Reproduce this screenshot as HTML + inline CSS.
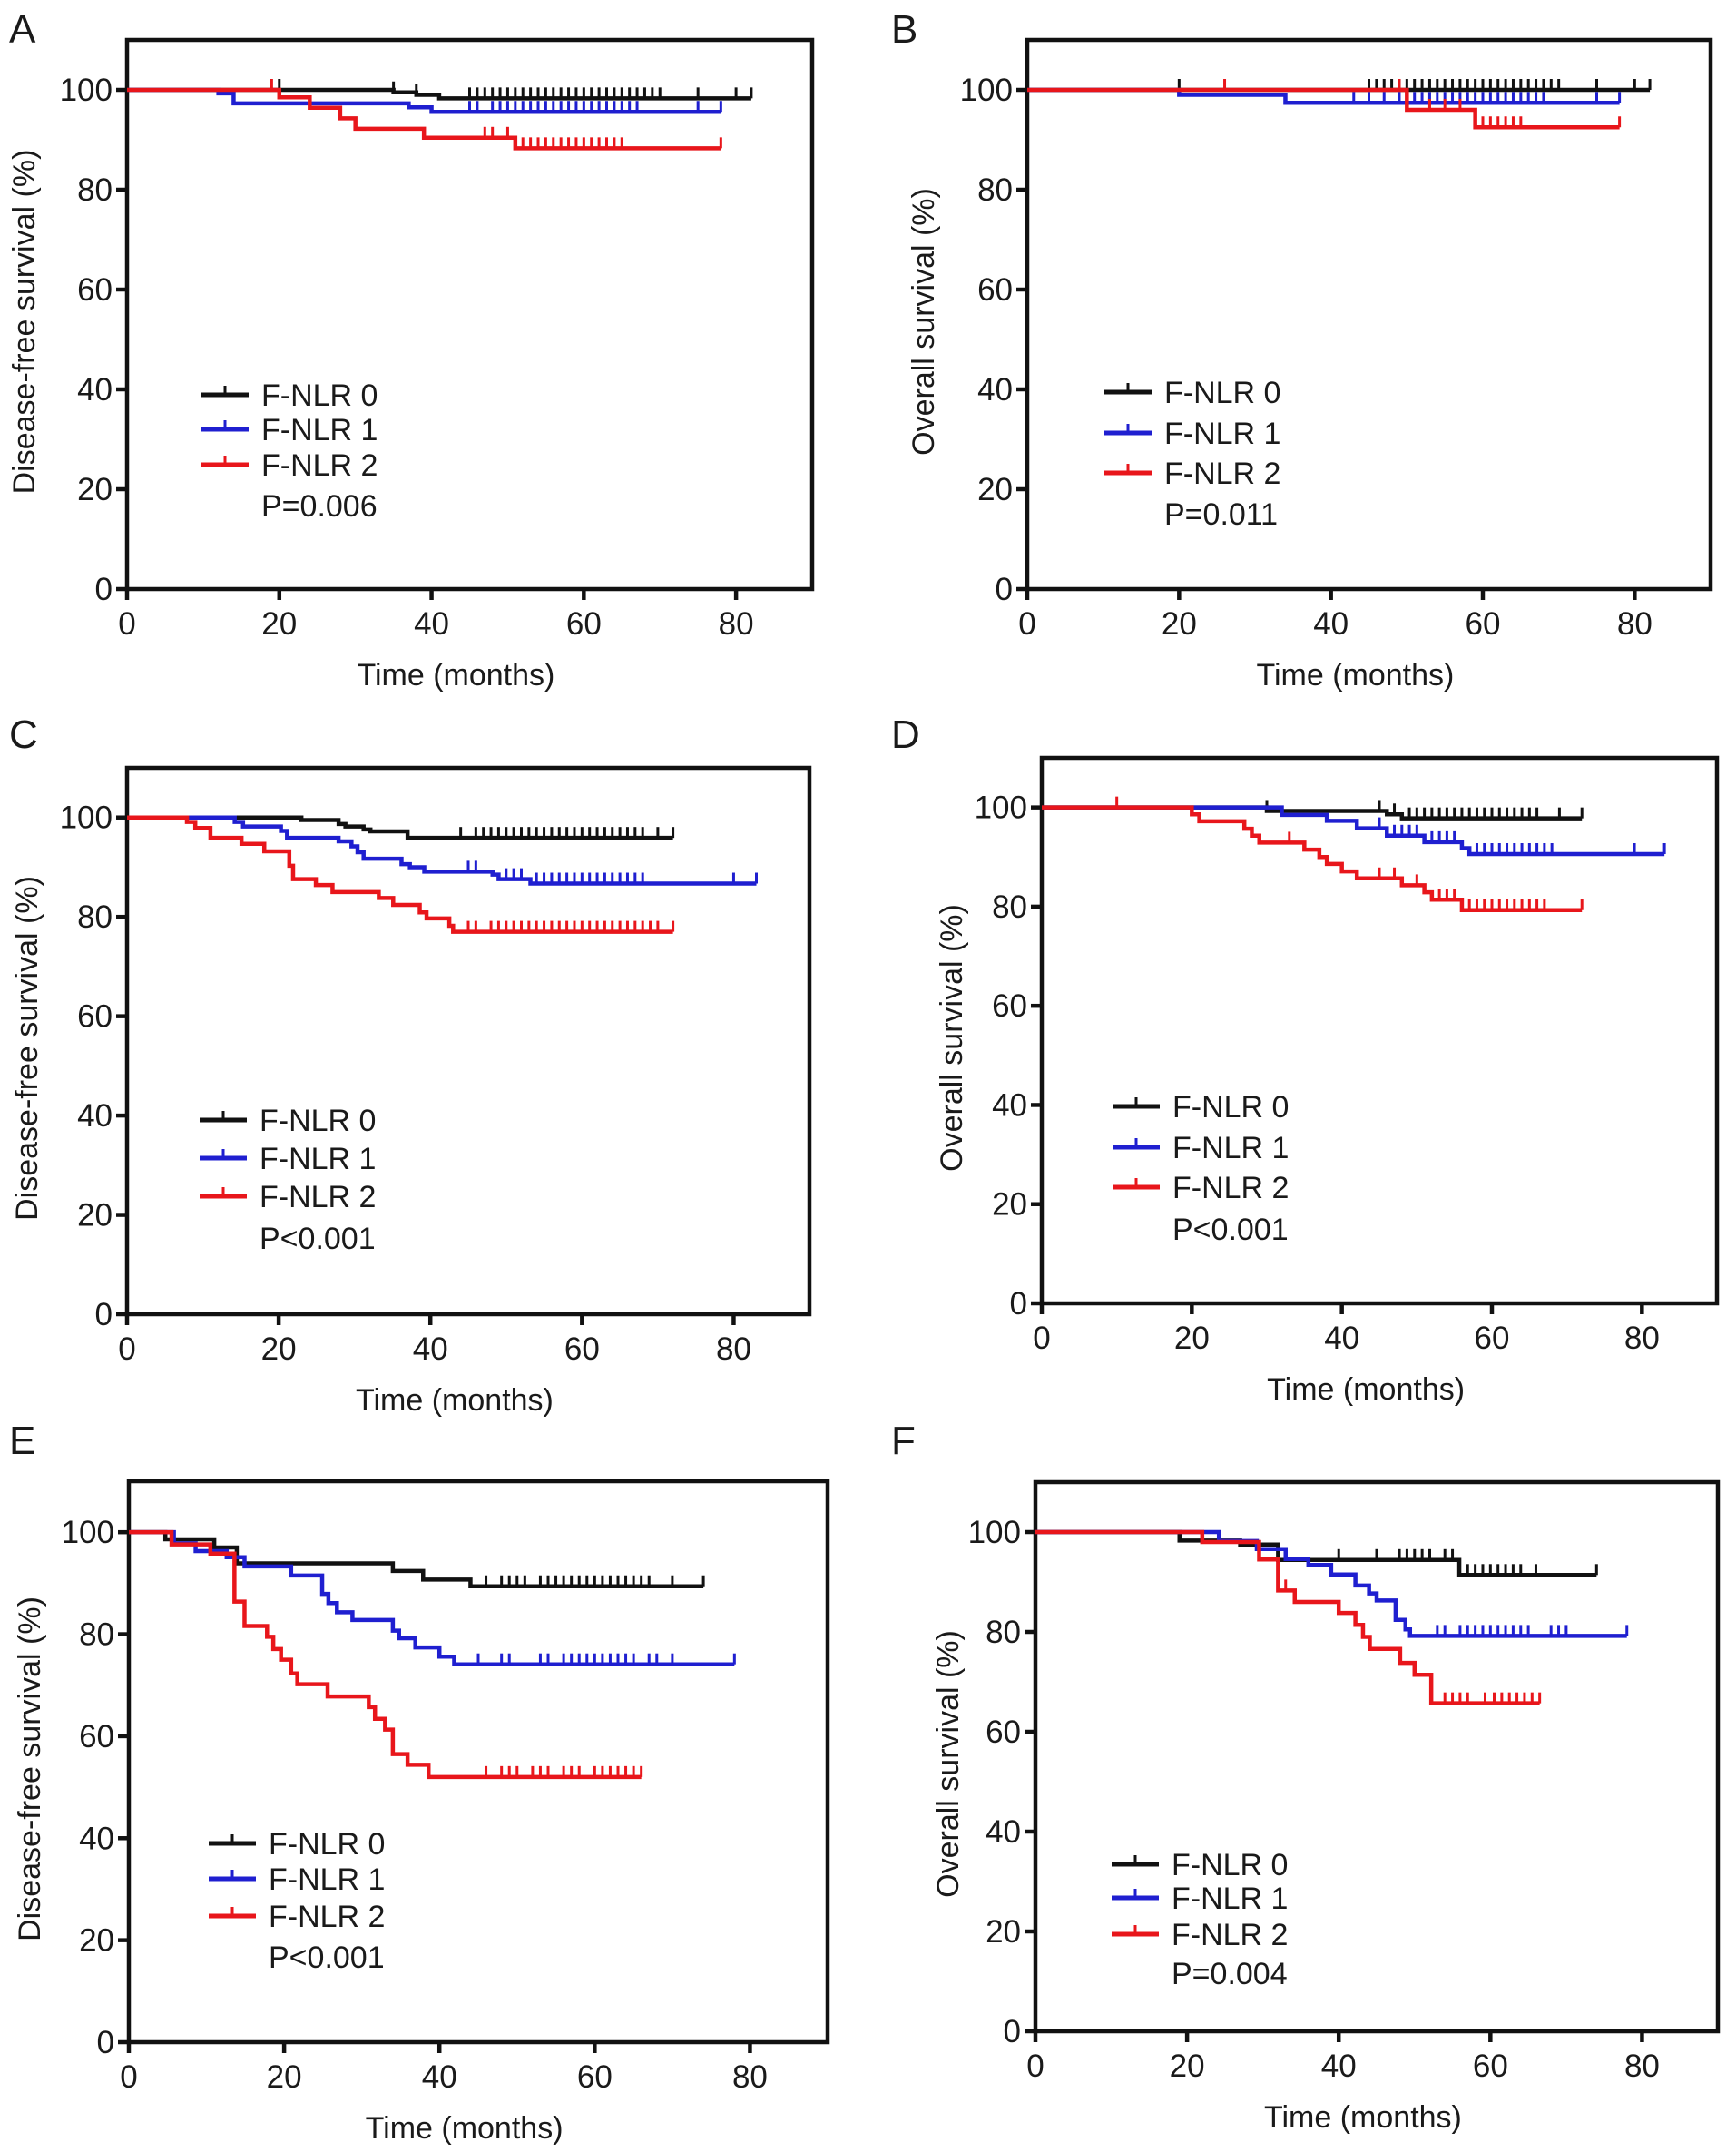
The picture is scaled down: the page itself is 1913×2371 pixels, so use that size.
<!DOCTYPE html>
<html><head><meta charset="utf-8">
<style>
html,body{margin:0;padding:0;background:#fff;}
svg{display:block;}
text{font-family:"Liberation Sans",Arial,sans-serif;fill:#1a1a1a;}
</style></head>
<body>
<svg id="fig" width="1913" height="2371" viewBox="0 0 1913 2371" xmlns="http://www.w3.org/2000/svg"></svg>
<script>
// ---- data: [time, survival] step events, censor times ----
const aBlackT=[35,38,41]; const aBlackS=[99.5,99,98.3]; const aBlackC=[20,35,38,45,46,47,48,49,50,51,52,53,54,55,56,57,58,59,60,61,62,63,64,65,66,67,68,69,70,75,80,82];
const aBlueT=[12,14,37,40]; const aBlueS=[99.3,97.3,96.5,95.6]; const aBlueC=[45,46,48,49,50,51,52,53,54,55,56,57,58,59,60,61,62,63,64,65,66,67,75,78];
const aRedT=[20,24,28,30,39,51]; const aRedS=[98.5,96.4,94.3,92.2,90.4,88.3]; const aRedC=[19,47,48,50,52,53,54,55,56,57,58,59,60,61,62,63,64,65,78];

const bBlackT=[]; const bBlackS=[]; const bBlackC=[20,45,46,47,48,49,50,51,52,53,54,55,56,57,58,59,60,61,62,63,64,65,66,67,68,69,70,75,80,82];
const bBlueT=[20,34]; const bBlueS=[99,97.4]; const bBlueC=[43,45,47,49,50,51,52,53,54,55,56,57,58,59,60,61,62,63,64,65,66,67,68,75,78];
const bRedT=[50,59]; const bRedS=[96,92.5]; const bRedC=[26,49,53,55,57,60,61,62,63,64,65,78];

const cBlackT=[23,27.9,28.8,31.2,32.1,37]; const cBlackS=[99.5,98.7,98.2,97.6,97.2,95.9]; const cBlackC=[44,46,47,48,49,50,51,52,53,54,55,56,57,58,59,60,61,62,63,64,65,66,67,68,70,72];
const cBlueT=[14.2,15.3,20.3,21.1,27.9,29.6,30.4,31.2,36.2,37.3,39.2,48.2,49,53.2]; const cBlueS=[99.1,98.2,97.3,95.9,95.2,94.2,93,91.7,90.6,90,89.1,88.5,87.6,86.7]; const cBlueC=[45,46,50,51,52,54,55,56,57,58,59,60,61,62,63,64,65,66,67,68,80,83];
const cRedT=[7.9,9,11,15.1,18.1,21.4,21.9,24.9,27.1,33.2,35.1,38.6,39.5,42.5,43]; const cRedS=[99.1,97.9,95.9,94.7,93.2,90.3,87.6,86.4,85,83.8,82.4,80.9,79.7,78.2,77]; const cRedC=[45,46,48,49,50,51,52,53,54,55,56,57,58,59,60,61,62,63,64,65,66,67,68,69,70,72];

const dBlackT=[30,46,48]; const dBlackS=[99.3,98.6,97.8]; const dBlackC=[30,45,47,49,50,51,52,53,54,55,56,57,58,59,60,61,62,63,64,65,66,69,72];
const dBlueT=[32,38,42,46,51,56,57]; const dBlueS=[98.5,97.3,95.8,94.3,93,91.8,90.6]; const dBlueC=[45,47,48,49,50,52,53,54,55,58,59,60,61,62,63,64,65,66,67,68,79,83];
const dRedT=[20,21,27,28,29,35,37,38,40,42,48,51,52,56]; const dRedS=[98.6,97.2,95.7,94.3,92.9,91.5,90,88.6,87.1,85.7,84.3,82.9,81.4,79.3]; const dRedC=[10,33,45,47,50,53,54,55,57,58,59,60,61,62,63,64,65,66,67,72];

const eBlackT=[4.7,11,13.9,34,37.9,44]; const eBlackS=[98.6,97,93.9,92.4,90.7,89.4]; const eBlackC=[46,48,49,50,51,53,54,55,56,57,58,59,60,61,62,63,64,65,66,67,70,74];
const eBlueT=[5.8,8.6,12.6,14.9,20.9,24.9,25.7,26.8,28.8,34,34.8,36.9,40,41.9]; const eBlueS=[97.8,96.3,95.1,93.3,91.5,87.9,86.1,84.3,82.8,80.7,79.2,77.4,75.6,74.1]; const eBlueC=[45,48,49,53,54,56,57,58,59,60,61,62,63,64,65,67,68,70,78];
const eRedT=[5.5,10.5,13.6,14.9,17.8,18.6,19.6,20.9,21.7,25.6,30.9,31.7,33,34,35.9,38.6]; const eRedS=[97.6,95.8,86.4,81.6,79.5,77.1,75,72.3,70.2,67.8,65.7,63.4,61.3,56.5,54.4,52]; const eRedC=[46,48,49,50,52,53,54,56,57,58,60,61,62,63,64,65,66];

const fBlackT=[19,27,32,55.9]; const fBlackS=[98.3,97.5,94.4,91.4]; const fBlackC=[40,45,48,49,50,51,52,54,55,57,58,59,60,61,62,63,64,66,74];
const fBlueT=[24.2,29.2,33,36,39,42.2,44,45,47.5,48.8,49.4]; const fBlueS=[98.2,96.6,94.6,93.4,91.5,89.3,87.7,86.3,82.4,80.5,79.2]; const fBlueC=[53,54,56,57,58,59,60,61,62,63,64,65,68,69,70,78];
const fRedT=[22,29.5,32,34.2,40,42.2,43.2,44.1,48.1,50,52.2]; const fRedS=[98,94.5,88.3,86,83.8,81.4,79,76.6,73.8,71.4,65.7]; const fRedC=[33,54,55,56,57,59.3,60.5,61.5,62.5,63.5,64.5,65.5,66.5];

const yTicks=[0,20,40,60,80,100];
const xTicks=[0,20,40,60,80];
const seriesNames=["F-NLR 0","F-NLR 1","F-NLR 2"];
const pValues=["P=0.006","P=0.011","P<0.001","P<0.001","P<0.001","P=0.004"];

const panels=[
 {id:"a",letter:"A",lx:10,ly:47,x0:140,y0:649,w:755,h:605,yt:"Disease-free survival (%)",ytx:27,legX:222,legY:[435,473,512],pY:557,
  s:[[aBlackT,aBlackS,aBlackC],[aBlueT,aBlueS,aBlueC],[aRedT,aRedS,aRedC]]},
 {id:"b",letter:"B",lx:982,ly:47,x0:1132,y0:649,w:753,h:605,yt:"Overall survival (%)",ytx:1018,legX:1217,legY:[432,477,521],pY:566,
  s:[[bBlackT,bBlackS,bBlackC],[bBlueT,bBlueS,bBlueC],[bRedT,bRedS,bRedC]]},
 {id:"c",letter:"C",lx:10,ly:824,x0:140,y0:1448,w:752,h:602,yt:"Disease-free survival (%)",ytx:30,legX:220,legY:[1234,1276,1318],pY:1364,
  s:[[cBlackT,cBlackS,cBlackC],[cBlueT,cBlueS,cBlueC],[cRedT,cRedS,cRedC]]},
 {id:"d",letter:"D",lx:982,ly:824,x0:1148,y0:1436,w:744,h:601,yt:"Overall survival (%)",ytx:1049,legX:1226,legY:[1219,1264,1308],pY:1354,
  s:[[dBlackT,dBlackS,dBlackC],[dBlueT,dBlueS,dBlueC],[dRedT,dRedS,dRedC]]},
 {id:"e",letter:"E",lx:10,ly:1602,x0:142,y0:2250,w:770,h:618,yt:"Disease-free survival (%)",ytx:33,legX:230,legY:[2031,2070,2111],pY:2156,
  s:[[eBlackT,eBlackS,eBlackC],[eBlueT,eBlueS,eBlueC],[eRedT,eRedS,eRedC]]},
 {id:"f",letter:"F",lx:982,ly:1602,x0:1141,y0:2238,w:752,h:605,yt:"Overall survival (%)",ytx:1045,legX:1225,legY:[2054,2091,2131],pY:2174,
  s:[[fBlackT,fBlackS,fBlackC],[fBlueT,fBlueS,fBlueC],[fRedT,fRedS,fRedC]]}
];
const colors=["#111111","#1f1fd0","#e8161b"];
const NS="http://www.w3.org/2000/svg";
const fig=document.getElementById("fig");
function mk(tag,attrs,parent){const e=document.createElementNS(NS,tag);for(const k in attrs)e.setAttribute(k,attrs[k]);(parent||fig).appendChild(e);return e;}

panels.forEach((p,pi)=>{
  const g=mk("g",{});
  
  
  const X=t=>p.x0+t*p.w/90;
  const Y=v=>p.y0-v*p.h/110;
  const lt=mk("text",{x:p.lx,y:p.ly,"font-size":44},g);lt.textContent=p.letter;
  
  
  const frame=mk("rect",{x:p.x0,y:p.y0-p.h,width:p.w,height:p.h,fill:"none",stroke:"#111","stroke-width":4.5},g);
  
  
  yTicks.forEach(v=>{
    const tk=mk("line",{x1:p.x0-12,x2:p.x0,y1:Y(v),y2:Y(v),stroke:"#111","stroke-width":4.5},g);
    
    
    const tl=mk("text",{x:p.x0-16,y:Y(v)+12,"font-size":35,"text-anchor":"end"},g);tl.textContent=v;
    
    
  });
  xTicks.forEach(v=>{
    const tk=mk("line",{x1:X(v),x2:X(v),y1:p.y0,y2:p.y0+12,stroke:"#111","stroke-width":4.5},g);
    
    
    const tl=mk("text",{x:X(v),y:p.y0+50,"font-size":35,"text-anchor":"middle"},g);tl.textContent=v;
    
    
  });
  const xt=mk("text",{x:p.x0+p.w*0.48,y:p.y0+106,"font-size":34,"text-anchor":"middle"},g);xt.textContent="Time (months)";
  
  
  const cy=p.y0-p.h/2+8;
  const yt=mk("text",{x:p.ytx,y:cy,"font-size":34,"text-anchor":"middle",transform:`rotate(-90 ${p.ytx} ${cy})`,"dominant-baseline":"central"},g);yt.textContent=p.yt;
  
  
  p.s.forEach((ser,si)=>{
    const [T,S,C]=ser;
    const end=C.length?Math.max(...C):90;
    let d=`M${X(0)},${Y(100)}`;
    T.forEach((t,i)=>{d+=` H${X(t)} V${Y(S[i])}`;});
    d+=` H${X(end)}`;
    const path=mk("path",{d:d,fill:"none",stroke:colors[si],"stroke-width":4.5},g);
    
    
    C.forEach(c=>{
      let v=100;T.forEach((t,i)=>{if(t<=c)v=S[i];});
      const cm=mk("line",{x1:X(c),x2:X(c),y1:Y(v),y2:Y(v)-12,stroke:colors[si],"stroke-width":3},g);
      
      
    });
    const ly=p.legY[si];
    const ll=mk("line",{x1:p.legX,x2:p.legX+52,y1:ly,y2:ly,stroke:colors[si],"stroke-width":5},g);
    
    
    const lm=mk("line",{x1:p.legX+26,x2:p.legX+26,y1:ly,y2:ly-10,stroke:colors[si],"stroke-width":3},g);
    
    
    const ltx=mk("text",{x:p.legX+66,y:ly+12,"font-size":34},g);ltx.textContent=seriesNames[si];
    
    
  });
  const pt=mk("text",{x:p.legX+66,y:p.pY+12,"font-size":34},g);pt.textContent=pValues[pi];
  
  
});
</script>
</body></html>
